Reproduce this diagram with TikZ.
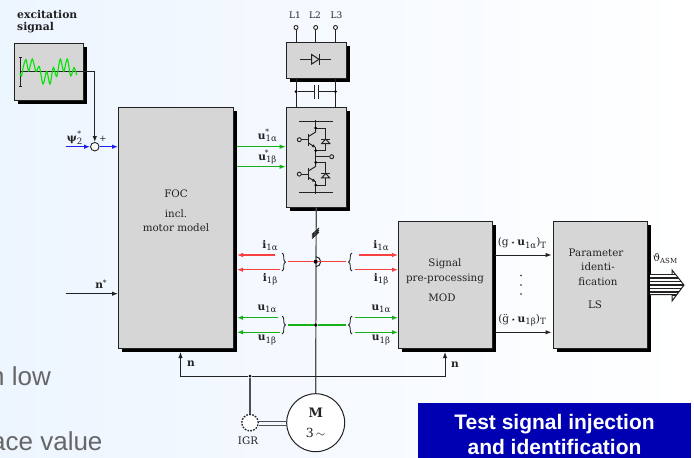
\documentclass[tikz,border=0pt]{standalone}
\usepackage{fontspec}
\setmainfont{DejaVu Serif}
\newfontfamily\sansf{Liberation Sans}
\newfontfamily\dvs{DejaVu Sans}
\usetikzlibrary{arrows.meta,shadows,decorations.pathreplacing}
\definecolor{boxgray}{HTML}{D6D6D6}
\definecolor{inkc}{HTML}{222222}
\definecolor{gred}{HTML}{F84040}
\definecolor{ggreen}{HTML}{18B018}
\definecolor{gblue}{HTML}{2020F0}
\definecolor{bggray}{HTML}{666666}
\definecolor{busc}{HTML}{505050}
\definecolor{bgleft}{HTML}{EDF5FF}
\tikzset{
  blockbox/.style={draw=inkc,line width=1pt,fill=boxgray,anchor=north west,inner sep=0pt,
    drop shadow={shadow xshift=3.5pt,shadow yshift=-3.5pt,fill=black,opacity=1}},
  lbl/.style={text=inkc,inner sep=0pt,font=\fontsize{10.3}{11}\selectfont},
  sublbl/.style={text=inkc,inner sep=0pt,font=\fontsize{10.6}{11}\selectfont},
  wire/.style={draw=inkc,line width=1pt},
  arr/.style={wire,-{Latex[length=6pt,width=4.5pt]}},
  redarr/.style={draw=gred,line width=1.05pt,-{Latex[length=6pt,width=4.5pt]}},
  greenarr/.style={draw=ggreen,line width=1.05pt,-{Latex[length=6pt,width=4.5pt]}},
  bluearr/.style={draw=gblue,line width=1.1pt,-{Latex[length=6pt,width=4.5pt]}},
  dotn/.style={circle,fill=black,inner sep=0pt,minimum size=3pt},
  term/.style={circle,draw=inkc,fill=white,line width=0.9pt,inner sep=0pt,minimum size=4pt},
  bracec/.style={draw=inkc,line width=0.9pt,decorate,decoration={brace,amplitude=3.5pt}},
  bg/.style={text=bggray,inner sep=0pt,anchor=base west,font=\sansf\fontsize{26}{28}\selectfont},
}
\newcommand{\subf}[1]{\raisebox{-2.5pt}{\fontsize{8.6}{9}\selectfont #1}}
\newcommand{\supf}[1]{\raisebox{5pt}{\fontsize{7.5}{8}\selectfont #1}}
\newcommand{\sg}[2]{\textbf{#1}\subf{#2}}
\newcommand{\convs}{\,{\dvs\fontsize{8}{9}\selectfont ⋆}\,}
\begin{document}
\begin{tikzpicture}[x=1pt,y=-1pt]
\useasboundingbox (0,0) rectangle (694,458);
\shade[left color=bgleft,right color=white] (0,0) rectangle (694,458);
\clip (0,0) rectangle (694,458);
% background text
\node[bg] (bga) at (-10,385.7) {n low};
\node[bg] (bgb) at (-9,450) {ace value};
% blocks
\node[blockbox,minimum width=69.5pt,minimum height=57.5pt] (exc) at (13.5,42.5) {};
\node[blockbox,minimum width=115pt,minimum height=240.5pt] (foc) at (118,107) {};
\node[blockbox,minimum width=60pt,minimum height=36pt] (rect) at (285.7,41.7) {};
\node[blockbox,minimum width=60pt,minimum height=100pt] (inv) at (285.7,106.7) {};
\node[blockbox,minimum width=93.5pt,minimum height=127.5pt] (sig) at (398,220.7) {};
\node[blockbox,minimum width=93.5pt,minimum height=127.5pt] (par) at (553,220.7) {};
% excitation graph
\coordinate (excout) at (83,71.5);
\coordinate (gl) at (19.5,71.5);
\draw[wire] (gl) -- (excout);
\draw[wire] (20.5,57.5) -- (20.5,86) (19,57.5) -- (22,57.5) (19,86) -- (22,86);
\draw[draw=green!90!black,line width=1.1pt,smooth] plot coordinates {(20,73) (21.5,76) (23.5,66) (26,59.5) (28.7,71) (32.3,59) (36,71.5) (39.3,66.5) (43,84) (46.7,71.5) (50,84) (53.3,67.5) (56.7,76.5) (60.3,59) (63.7,71.5) (67.3,59) (70.7,76) (74,67.5) (76.7,75)};
\node[font=\bfseries\fontsize{10.8}{11}\selectfont,text=inkc,inner sep=0pt,anchor=west] (exct) at (17,14.5) {excitation};
\node[font=\bfseries\fontsize{10.8}{11}\selectfont,text=inkc,inner sep=0pt,anchor=west] (excs) at (17,27.5) {signal};
% summing point
\node[circle,draw=inkc,fill=white,line width=0.9pt,inner sep=0pt,minimum size=8.5pt] (sum) at (94.8,146.7) {};
\coordinate (psi) at (66,146.7);
\draw[arr] (excout) -| (sum.north);
\draw[bluearr] (psi) -- (sum.west);
\draw[bluearr] (sum.east) -- (foc.west |- sum);
\node[lbl,font=\fontsize{8.5}{9}\selectfont] (plus) at (103,139) {+};
\node[sublbl] (psil) at (74,137.5) {\textbf{ψ}\subf{2}\kern-5pt\supf{*}};
% n*
\coordinate (nst) at (66,293.7);
\draw[arr] (nst) -- (foc.west |- nst);
\node[sublbl] (nstl) at (101,284) {\textbf{n}\raisebox{3pt}{\fontsize{7.5}{8}\selectfont *}};
% FOC text
\node[lbl] (f1) at (176,193.5) {FOC};
\node[lbl] (f2) at (176,214) {incl.};
\node[lbl] (f3) at (176,227.5) {motor model};
% mains
\foreach \n/\x/\xl in {1/296/295,2/315.7/315,3/335.5/336.5}{
  \node[term] (L\n) at (\x,27.5) {};
  \node[lbl,font=\fontsize{9}{10}\selectfont] (Lt\n) at (\xl,15) {L\n};
  \draw[wire] (L\n.south) -- (\x,41.7);
}
% DC link
\draw[wire] (296,77.7) -- (296,106.7) (335.5,77.7) -- (335.5,106.7);
\node[dotn] (dc1) at (296,91.7) {};
\node[dotn] (dc2) at (335.5,91.7) {};
\coordinate (cap1) at (314.6,91.7);
\coordinate (cap2) at (318.4,91.7);
\draw[wire] (dc1) -- (cap1) (cap2) -- (dc2);
\draw[wire,line width=1.1pt] (314.6,85) -- (314.6,98.7) (318.4,85) -- (318.4,98.7);
% rectifier diode
\draw[wire] (300,59.3) -- (331,59.3);
\draw[wire,fill=boxgray] (311.7,54.5) -- (319,59.3) -- (311.7,64) -- cycle;
\draw[wire] (319.3,54) -- (319.3,64.5);
% inverter legs
\draw[wire,line width=1.1pt] (299,121.7) -- (332.7,121.7) (299,192.3) -- (332.7,192.3);
\draw[wire] (315.7,120) -- (315.7,131) (315.7,148) -- (315.7,166) (315.7,183) -- (315.7,194);
\foreach \dy in {0,34.4}{
  \begin{scope}[yshift=-\dy pt]
  \draw[wire] (315.7,128) -- (325.7,128) -- (325.7,150.7) -- (315.7,150.7);
  \draw[wire] (301,139.7) -- (308.5,139.7);
  \draw[wire,line width=1.8pt] (308.5,133.5) -- (308.5,146);
  \draw[wire] (308.5,136.5) -- (315.7,132) (315.7,132) -- (315.7,128);
  \draw[wire,-{Latex[length=3.5pt,width=3.5pt]}] (308.5,143) -- (315.7,147.5);
  \draw[wire] (315.7,147) -- (315.7,150.7);
  \draw[wire,fill=boxgray] (325.7,139) -- (321.7,143.5) -- (329.7,143.5) -- cycle;
  \draw[wire] (321.2,139) -- (330.2,139);
  \node[term,fill=boxgray] at (299.3,139.7) {};
  \fill (315.7,128) circle (1.5pt) (315.7,150.7) circle (1.5pt);
  \end{scope}
}
\node[term,fill=boxgray] (out) at (331.7,156.7) {};
\draw[wire] (315.7,156.7) -- (out.west);
% bus
\node[circle,draw=inkc,fill=white,line width=1pt,inner sep=0pt,minimum size=58pt] (mot) at (315.7,422.7) {};
\node[font=\bfseries\fontsize{13}{14}\selectfont,text=inkc,inner sep=0pt] (m1) at (315.7,413) {M};
\node[font=\fontsize{12.5}{13}\selectfont,text=inkc,inner sep=0pt] (m2) at (315.5,433) {3\,$\sim$};
\draw[draw=busc,line width=1.2pt] (inv.south) -- (mot.north);
\draw[wire] (312,238.5) -- (319,232) (312,236.5) -- (319,230) (312,234.5) -- (319,228);
\node[dotn,minimum size=4pt] (isens) at (315.7,261.7) {};
\node[dotn,minimum size=3.6pt] (usens) at (315.7,325) {};
\draw[wire] (315.7,256.7) arc (90:-90:5pt);
% sensor lines
\coordinate (il) at (288,261.7); \coordinate (ir) at (346,261.7);
\coordinate (ul) at (288,325); \coordinate (ur) at (346,325);
\draw[draw=gred,line width=1.05pt] (il) -- (isens) -- (ir);
\draw[draw=ggreen,line width=1.05pt] (ul) -- (usens) -- (ur);
% braces
\draw[bracec] (282,253) -- (282,271);
\draw[bracec] (282,316) -- (282,334);
\draw[bracec] (352,271) -- (352,253);
\draw[bracec] (352,334) -- (352,316);
% motor-side arrows
\coordinate (a1) at (275,255); \coordinate (a2) at (280,269.7);
\coordinate (a3) at (278,317.7); \coordinate (a4) at (280,332.3);
\draw[redarr] (a1) -- (237,255);
\draw[redarr] (a2) -- (237,269.7);
\draw[greenarr] (a3) -- (237,317.7);
\draw[greenarr] (a4) -- (237,332.3);
\coordinate (b1) at (359,255); \coordinate (b2) at (355,269.7);
\coordinate (b3) at (355,317.7); \coordinate (b4) at (355,332.3);
\draw[redarr] (b1) -- (sig.west |- b1);
\draw[redarr] (b2) -- (sig.west |- b2);
\draw[greenarr] (b3) -- (sig.west |- b3);
\draw[greenarr] (b4) -- (sig.west |- b4);
\node[sublbl] (t1) at (270,245.5) {\sg{i}{1α}};
\node[sublbl] (t2) at (270,279.5) {\sg{i}{1β}};
\node[sublbl] (t3) at (267,309) {\sg{u}{1α}};
\node[sublbl] (t4) at (267,340) {\sg{u}{1β}};
\node[sublbl] (t5) at (381,245.5) {\sg{i}{1α}};
\node[sublbl] (t6) at (381,279.5) {\sg{i}{1β}};
\node[sublbl] (t7) at (381,309) {\sg{u}{1α}};
\node[sublbl] (t8) at (381,340) {\sg{u}{1β}};
% set-point arrows
\coordinate (s1) at (237,146.7); \coordinate (s2) at (237,166.7);
\draw[greenarr] (s1) -- (inv.west |- s1);
\draw[greenarr] (s2) -- (inv.west |- s2);
\node[sublbl] (t9) at (267,135.5) {\textbf{u}\subf{1α}\kern-11.5pt\supf{*}\kern7pt};
\node[sublbl] (t10) at (267,157) {\textbf{u}\subf{1β}\kern-11.5pt\supf{*}\kern7pt};
% signal block text
\node[lbl] (g1) at (445,263.5) {Signal};
\node[lbl] (g2) at (445,279) {pre-processing};
\node[lbl] (g3) at (442,298) {MOD};
% parameter block text
\node[lbl] (p1) at (596,253) {Parameter};
\node[lbl] (p2) at (598,267) {identi-};
\node[lbl] (p3) at (598,282) {fication};
\node[lbl] (p4) at (595,305) {LS};
% outputs
\coordinate (o1) at (495,255); \coordinate (o2) at (495,332.3);
\draw[arr] (o1) -- (551.5,255);
\draw[arr] (o2) -- (551.5,332.3);
\node[sublbl] (o1l) at (522,243) {(g\convs\textbf{u}\subf{1α})\subf{T}};
\node[sublbl] (o2l) at (522,320.5) {(\"g\convs\textbf{u}\subf{1β})\subf{T}};
\fill[inkc] (521,275.5) circle (.9pt) (521,285) circle (.9pt) (521,294) circle (.9pt);
% big output arrow
\begin{scope}
\clip (650,274) -- (672,274) -- (672,270) -- (684,285) -- (672,301) -- (672,295) -- (650,295) -- cycle;
\fill[white] (650,260) rectangle (690,310);
\foreach \yy in {274.5,278,281.5,285,288.5,292,295}{\draw[wire,line width=1.3pt] (650,\yy) -- (684,\yy);}
\end{scope}
\draw[wire] (672,274) -- (672,270) -- (684,285) -- (672,301) -- (672,295);
\node[lbl] (th) at (665,258.5) {ϑ\raisebox{-2pt}{\fontsize{7}{8}\selectfont ASM}};
% speed feedback
\node[circle,draw=inkc,fill=white,line width=1.3pt,dash pattern=on 1.7pt off 1.3pt,inner sep=0pt,minimum size=16.5pt] (igr) at (250,422.7) {};
\node[dotn] (nj) at (250,376) {};
\coordinate (nl) at (180.5,376); \coordinate (nr) at (445,376);
\draw[arr] (nj) -- (nl) -- (180.5,352);
\draw[arr] (nj) -- (nr) -- (445,352);
\draw[draw=busc,line width=1.2pt] (nj) -- (igr.north);
\draw[draw=busc,line width=0.9pt] (259,421) -- (286.8,421) (259,425) -- (286.8,425);
\node[lbl] (igrl) at (248,441) {IGR};
\node[sublbl] (n1) at (191,364) {\textbf{n}};
\node[sublbl] (n2) at (455,365) {\textbf{n}};
% banner
\node[fill=blue!70!black,draw=none,anchor=north west,minimum width=273pt,minimum height=56pt,inner sep=0pt] (ban) at (418,403) {};
\node[text=white,font=\sansf\bfseries\fontsize{21}{23}\selectfont,inner sep=0pt,anchor=base] (b1) at (554.5,429) {Test signal injection};
\node[text=white,font=\sansf\bfseries\fontsize{21}{23}\selectfont,inner sep=0pt,anchor=base] (b2) at (554.5,454.5) {and identification};
\end{tikzpicture}
\end{document}
